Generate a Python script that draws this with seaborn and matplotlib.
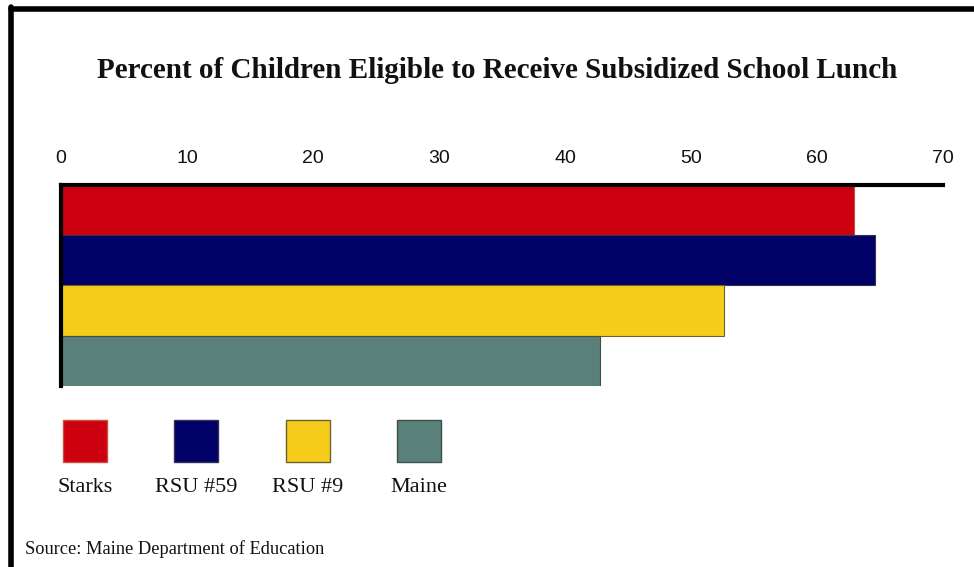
import matplotlib
matplotlib.use("Agg")
import matplotlib.pyplot as plt
from matplotlib.patches import Rectangle
from matplotlib.lines import Line2D
import seaborn as sns
import pandas as pd

# Data
districts = ["Starks", "RSU #59", "RSU #9", "Maine"]
pct_eligible = [62.9, 64.6, 52.6, 42.8]
bar_colors = ["#CC000E", "#000066", "#F5CD1A", "#5A807A"]
edge_colors = ["#C85040", "#333355", "#6E6030", "#3E4E4A"]
x_ticks = [0, 10, 20, 30, 40, 50, 60, 70]

title = "Percent of Children Eligible to Receive Subsidized School Lunch"
source = "Source: Maine Department of Education"

W, H = 974, 567
sns.set_theme(style="white")
fig = plt.figure(figsize=(W / 100, H / 100), dpi=100)
fig.patch.set_facecolor("white")

# Axes box in pixel units converted to figure fractions
ax_left, ax_top, ax_right, ax_bottom = 61, 185, 943, 386
ax = fig.add_axes([ax_left / W, 1 - ax_bottom / H,
                   (ax_right - ax_left) / W, (ax_bottom - ax_top) / H])

df = pd.DataFrame({"district": districts, "pct": pct_eligible})
sns.barplot(data=df, x="pct", y="district", hue="district",
            palette=bar_colors, saturation=1, orient="h", width=1.0,
            legend=False, linewidth=0.8, edgecolor="#333333", ax=ax)
for patch, ec in zip(ax.patches, edge_colors):
    patch.set_edgecolor(ec)

ax.set_xlim(0, 70)
ax.set_ylim(3.5, -0.5)
ax.set_xticks(x_ticks)
ax.set_xticklabels([str(t) for t in x_ticks],
                   fontdict={"family": "Liberation Sans", "size": 14})
ax.xaxis.tick_top()
ax.tick_params(axis="x", length=0, pad=13, colors="#111111")
ax.set_yticks([])
ax.set_xlabel("")
ax.set_ylabel("")
ax.set_facecolor("white")
for side in ("right", "bottom"):
    ax.spines[side].set_visible(False)
for side in ("left", "top"):
    ax.spines[side].set_visible(True)
    ax.spines[side].set_linewidth(3)
    ax.spines[side].set_color("black")
ax.grid(False)

# Outer frame: thick rules along the top and left edges
fig.add_artist(Line2D([11 / W, 1.0], [1 - 8.5 / H, 1 - 8.5 / H],
                      transform=fig.transFigure, color="black", lw=4))
fig.add_artist(Line2D([11 / W, 11 / W], [0.0, 1 - 6.5 / H],
                      transform=fig.transFigure, color="black", lw=4))

# Title
fig.text(497 / W, 1 - 70 / H, title, ha="center", va="center",
         family="Liberation Serif", fontweight="bold", fontsize=21,
         color="#111111")

# Legend: swatches with the label underneath
sw_w, sw_h = 44, 42
sw_top = 420
for i, (name, col, ec) in enumerate(zip(districts, bar_colors, edge_colors)):
    x0 = 63 + i * 111.3
    fig.add_artist(Rectangle((x0 / W, 1 - (sw_top + sw_h) / H),
                             sw_w / W, sw_h / H, transform=fig.transFigure,
                             facecolor=col, edgecolor=ec, linewidth=1))
    fig.text((x0 + sw_w / 2) / W, 1 - 487 / H, name, ha="center",
             va="center", family="Liberation Serif", fontsize=16,
             color="#111111")

# Source note
fig.text(25 / W, 1 - 549 / H, source, ha="left", va="center",
         family="Liberation Serif", fontsize=13.2, color="#111111")

fig.savefig("out.png", dpi=100, facecolor="white")
